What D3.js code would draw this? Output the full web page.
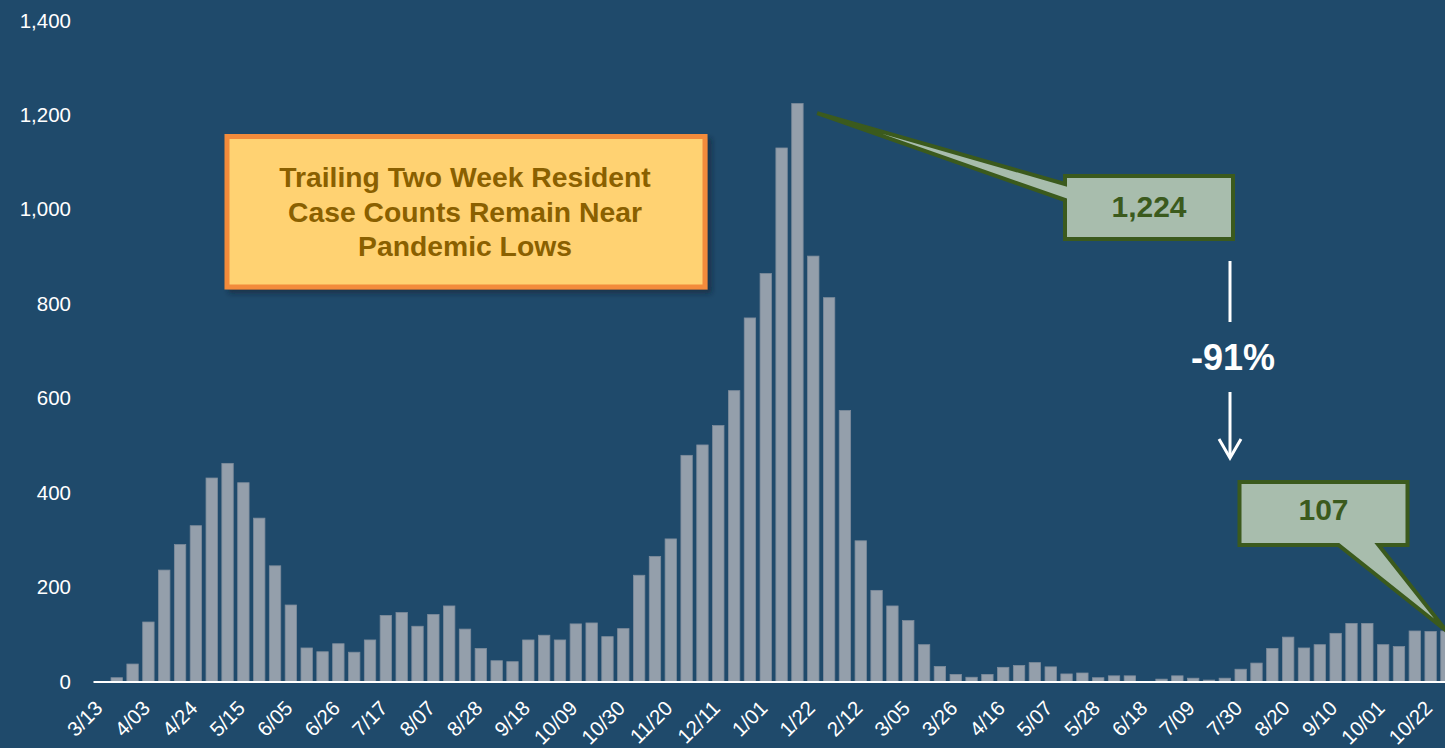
<!DOCTYPE html>
<html>
<head>
<meta charset="utf-8">
<script src="https://cdn.jsdelivr.net/npm/d3@7"></script>
<style>
  html, body { margin: 0; padding: 0; background: #1f4a6b; overflow: hidden; }
  svg { display: block; font-family: "Liberation Sans", Arial, sans-serif; }
</style>
</head>
<body>
<svg id="chart" width="1445" height="748"></svg>
<script>
// Weekly periods (week ending), 3/13/2020 through 10/29/2021
const weeks = [
  "3/13","3/20","3/27","4/03","4/10","4/17","4/24","5/01","5/08","5/15",
  "5/22","5/29","6/05","6/12","6/19","6/26","7/03","7/10","7/17","7/24",
  "7/31","8/07","8/14","8/21","8/28","9/04","9/11","9/18","9/25","10/02",
  "10/09","10/16","10/23","10/30","11/06","11/13","11/20","11/27","12/04","12/11",
  "12/18","12/25","1/01","1/08","1/15","1/22","1/29","2/05","2/12","2/19",
  "2/26","3/05","3/12","3/19","3/26","4/02","4/09","4/16","4/23","4/30",
  "5/07","5/14","5/21","5/28","6/04","6/11","6/18","6/25","7/02","7/09",
  "7/16","7/23","7/30","8/06","8/13","8/20","8/27","9/03","9/10","9/17",
  "9/24","10/01","10/08","10/15","10/22","10/29"
];

// Trailing two-week resident case counts
const cases = [
  0, 8, 37, 126, 236, 290, 330, 431, 462, 421,
  346, 245, 162, 71, 63, 80, 62, 88, 140, 146,
  117, 142, 160, 111, 70, 44, 42, 88, 98, 88,
  122, 124, 95, 112, 225, 265, 302, 479, 501, 542,
  616, 770, 864, 1130, 1224, 901, 813, 574, 298, 193,
  160, 129, 78, 32, 15, 9, 15, 30, 34, 40,
  31, 16, 18, 8, 12, 12, 0, 5, 12, 7,
  3, 7, 26, 39, 70, 94, 71, 78, 102, 123,
  123, 78, 74, 107, 106, 107
];

// Every third week is labelled on the x axis
const xTickLabels = [
  "3/13","4/03","4/24","5/15","6/05","6/26","7/17","8/07","8/28","9/18",
  "10/09","10/30","11/20","12/11","1/01","1/22","2/12","3/05","3/26","4/16",
  "5/07","5/28","6/18","7/09","7/30","8/20","9/10","10/01","10/22"
];
const yTickValues = [0, 200, 400, 600, 800, 1000, 1200, 1400];

const titleLines = ["Trailing Two Week Resident", "Case Counts Remain Near", "Pandemic Lows"];
const peakLabel = "1,224";
const latestLabel = "107";
const changeLabel = "-91%";

const svg = d3.select("#chart");
const W = 1445, H = 748;

svg.append("rect").attr("width", W).attr("height", H).attr("fill", "#1f4a6b");

const step = 15.83;
const x0 = 93;
const x = d3.scaleBand()
  .domain(weeks)
  .range([x0, x0 + weeks.length * step])
  .paddingInner(0.28)
  .paddingOuter(0.14);

const y = d3.scaleLinear().domain([0, 1400]).range([681.5, 20.5]);

const defs = svg.append("defs");
const shadow = defs.append("filter").attr("id", "boxShadow")
  .attr("x", "-10%").attr("y", "-10%").attr("width", "120%").attr("height", "130%");
shadow.append("feDropShadow")
  .attr("dx", 4).attr("dy", 4).attr("stdDeviation", 2.5)
  .attr("flood-color", "#0b1e2e").attr("flood-opacity", 0.55);

// Bars
svg.append("g").selectAll("rect")
  .data(cases.map((v, i) => ({ week: weeks[i], value: v })))
  .join("rect")
  .attr("x", d => x(d.week))
  .attr("width", x.bandwidth())
  .attr("y", d => y(d.value))
  .attr("height", d => y(0) - y(d.value))
  .attr("fill", "#949fab")
  .attr("stroke", "#7d8c9c")
  .attr("stroke-width", 0.8);

// Y axis
const yAxis = svg.append("g")
  .attr("transform", `translate(${x0},0)`)
  .call(d3.axisLeft(y).tickValues(yTickValues).tickSize(0).tickPadding(22).tickFormat(d3.format(",")));
yAxis.select(".domain").remove();
yAxis.selectAll("text")
  .attr("fill", "#ffffff")
  .style("font-size", "20.5px")
  .style("font-family", "'Liberation Sans', Arial, sans-serif");

// X axis
const xAxis = svg.append("g")
  .attr("transform", `translate(0,${y(0)})`)
  .call(d3.axisBottom(x).tickValues(xTickLabels).tickSize(0).tickSizeOuter(0));
xAxis.select(".domain")
  .attr("stroke", "#ffffff")
  .attr("stroke-width", 2);
xAxis.selectAll("text")
  .attr("fill", "#ffffff")
  .attr("x", 0).attr("y", 0).attr("dy", 0)
  .attr("text-anchor", "end")
  .attr("transform", "translate(3,28) rotate(-45)")
  .style("font-size", "20.5px")
  .style("font-family", "'Liberation Sans', Arial, sans-serif");

// Title box
const box = svg.append("g");
box.append("rect")
  .attr("x", 227).attr("y", 136.5).attr("width", 478).attr("height", 150.5)
  .attr("fill", "#ffd272")
  .attr("stroke", "#f38b3a")
  .attr("stroke-width", 5)
  .attr("filter", "url(#boxShadow)");
box.selectAll("text")
  .data(titleLines)
  .join("text")
  .attr("x", 465)
  .attr("y", (d, i) => 187 + i * 34.5)
  .attr("text-anchor", "middle")
  .attr("fill", "#8a6000")
  .style("font-size", "28.3px")
  .style("font-weight", "bold")
  .text(d => d);

// Callouts
const calloutFill = "#a8bdad";
const calloutStroke = "#3b5a1d";

const peakIdx = cases.indexOf(1224);
const peakTip = [x(weeks[peakIdx]) + x.bandwidth() + 14, y(cases[peakIdx]) + 9.5];
const pb = { x: 1065, y: 176, w: 168, h: 63 };
svg.append("path")
  .attr("d", `M${pb.x},${pb.y} H${pb.x + pb.w} V${pb.y + pb.h} H${pb.x} V${pb.y + 24} L${peakTip[0]},${peakTip[1]} L${pb.x},${pb.y + 8} Z`)
  .attr("fill", calloutFill)
  .attr("stroke", calloutStroke)
  .attr("stroke-width", 4)
  .attr("stroke-linejoin", "miter");
svg.append("text")
  .attr("x", pb.x + pb.w / 2).attr("y", 217)
  .attr("text-anchor", "middle")
  .attr("fill", calloutStroke)
  .style("font-size", "30px").style("font-weight", "bold")
  .text(peakLabel);

const lastIdx = cases.length - 1;
const lastTip = [x(weeks[lastIdx]) + x.bandwidth() / 2, y(cases[lastIdx])];
const lb = { x: 1239.5, y: 482, w: 168, h: 63 };
svg.append("path")
  .attr("d", `M${lb.x},${lb.y} H${lb.x + lb.w} V${lb.y + lb.h} H${lb.x + 139} L${lastTip[0]},${lastTip[1]} L${lb.x + 99},${lb.y + lb.h} H${lb.x} Z`)
  .attr("fill", calloutFill)
  .attr("stroke", calloutStroke)
  .attr("stroke-width", 4)
  .attr("stroke-linejoin", "miter");
svg.append("text")
  .attr("x", lb.x + lb.w / 2).attr("y", 520)
  .attr("text-anchor", "middle")
  .attr("fill", calloutStroke)
  .style("font-size", "30px").style("font-weight", "bold")
  .text(latestLabel);

// Percent change arrow
const arrow = svg.append("g").attr("stroke", "#ffffff").attr("stroke-width", 3).attr("fill", "none");
arrow.append("line").attr("x1", 1230).attr("x2", 1230).attr("y1", 261).attr("y2", 322);
arrow.append("line").attr("x1", 1230).attr("x2", 1230).attr("y1", 392).attr("y2", 457);
arrow.append("path").attr("d", "M1219,439 L1230,458 L1241,439").attr("stroke-linejoin", "miter");
svg.append("text")
  .attr("x", 1233).attr("y", 370)
  .attr("text-anchor", "middle")
  .attr("fill", "#ffffff")
  .style("font-size", "36px").style("font-weight", "bold")
  .text(changeLabel);
</script>
</body>
</html>
